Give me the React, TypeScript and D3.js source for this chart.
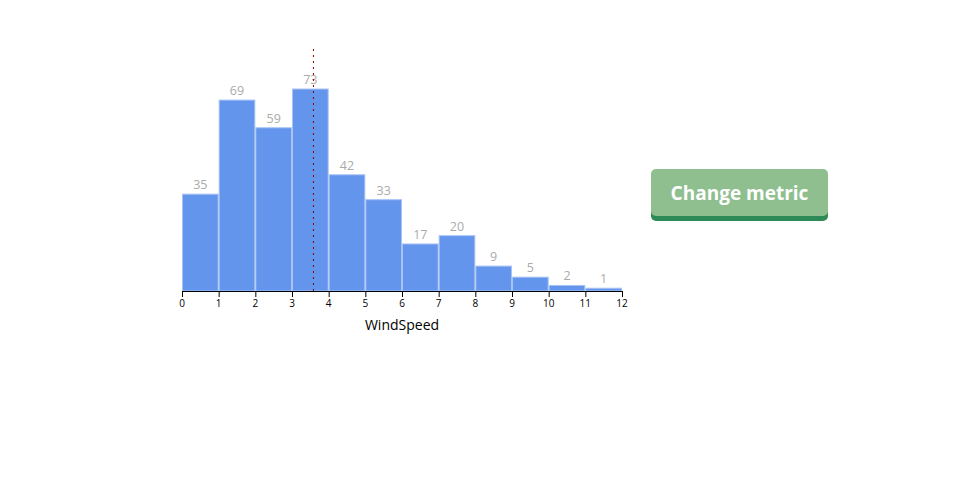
import React from "react";
import * as d3 from "d3";

const binStarts = [0, 1, 2, 3, 4, 5, 6, 7, 8, 9, 10, 11];
const counts = [35, 69, 59, 73, 42, 33, 17, 20, 9, 5, 2, 1];
const xTicks = [0, 1, 2, 3, 4, 5, 6, 7, 8, 9, 10, 11, 12];
const meanValue = 3.585;
const axisLabel = "WindSpeed";
const buttonLabel = "Change metric";

export default function App() {
  const width = 960;
  const height = 500;
  const left = 182;
  const right = 622;
  const base = 291;
  const x = d3.scaleLinear().domain([0, 12]).range([left, right]);
  const y = d3.scaleLinear().domain([0, 73]).range([base, 89]);
  const font = "'Open Sans', sans-serif";
  return (
    <svg width={width} height={height} style={{ position: "absolute", left: 0, top: 0 }}>
      <g>
        {binStarts.map((b, i) => (
          <rect
            key={i}
            x={x(b) + 0.5}
            y={y(counts[i])}
            width={x(b + 1) - x(b) - 1}
            height={base - y(counts[i])}
            fill="#6495ED"
            stroke="#a9c3f5"
            strokeWidth={1}
          />
        ))}
        {binStarts.map((b, i) => (
          <text
            key={"l" + i}
            x={(x(b) + x(b + 1)) / 2}
            y={y(counts[i]) - 5}
            textAnchor="middle"
            fontFamily={font}
            fontSize={12.5}
            fill="#aaaaaa"
          >
            {counts[i]}
          </text>
        ))}
        <line
          x1={x(meanValue)}
          x2={x(meanValue)}
          y1={49}
          y2={base}
          stroke="#8b0000"
          strokeWidth={1}
          strokeDasharray="2,4"
        />
        <line x1={left} x2={right} y1={base + 0.5} y2={base + 0.5} stroke="#000" />
        {xTicks.map((t) => (
          <g key={"t" + t} transform={`translate(${x(t)},${base})`}>
            <line y1={0} y2={6} stroke="#000" x1={0.5} x2={0.5} />
            <text y={16} textAnchor="middle" fontFamily={font} fontSize={10} fill="#000">
              {t}
            </text>
          </g>
        ))}
        <text
          x={(left + right) / 2}
          y={330}
          textAnchor="middle"
          fontFamily={font}
          fontSize={14}
          fill="#000"
        >
          {axisLabel}
        </text>
      </g>
      <g>
        <rect x={651} y={172} width={177} height={49} rx={5} fill="#2e8b57" />
        <rect x={651} y={169} width={177} height={47} rx={5} fill="#8fbf8f" />
        <text
          x={739.5}
          y={200}
          textAnchor="middle"
          fontFamily={font}
          fontWeight="bold"
          fontSize={19}
          fill="#ffffff"
        >
          {buttonLabel}
        </text>
      </g>
    </svg>
  );
}
